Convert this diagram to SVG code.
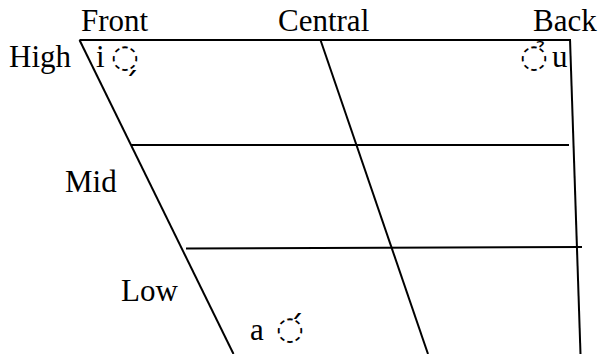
<svg xmlns="http://www.w3.org/2000/svg" width="602" height="354" viewBox="0 0 602 354">
<style>
.ln{stroke:#000;stroke-width:2;fill:none}
.t{font-family:'Liberation Serif','Times New Roman',serif;font-size:31px;fill:#000}
.m{font-family:'DejaVu Sans',sans-serif;font-size:32px;fill:#000}
</style>
<rect width="602" height="354" fill="#fff"/>
<g id="chart-lines">
<line class="ln" x1="79.5" y1="40" x2="571" y2="40"/>
<line class="ln" x1="79.5" y1="40" x2="233.5" y2="354"/>
<line class="ln" x1="570" y1="39" x2="580.5" y2="354"/>
<line class="ln" x1="320.5" y1="40" x2="428" y2="354"/>
<line class="ln" x1="131" y1="145" x2="569" y2="145"/>
<line class="ln" x1="186" y1="248.5" x2="582" y2="247"/>
</g>
<g id="labels">
<text class="t" x="81" y="31">Front</text>
<text class="t" x="278" y="31">Central</text>
<text class="t" x="533" y="31">Back</text>
<text class="t" x="9" y="67">High</text>
<text class="t" x="65" y="192">Mid</text>
<text class="t" x="121" y="301">Low</text>
</g>
<g id="vowels">
<text class="t" x="96" y="67">i</text>
<text class="m" x="111" y="67">◌̗</text>
<text class="m" x="520" y="67">◌̉</text>
<text class="t" x="552" y="67">u</text>
<text class="t" x="250" y="340">a</text>
<text class="m" x="276" y="339">◌́</text>
</g>
</svg>
